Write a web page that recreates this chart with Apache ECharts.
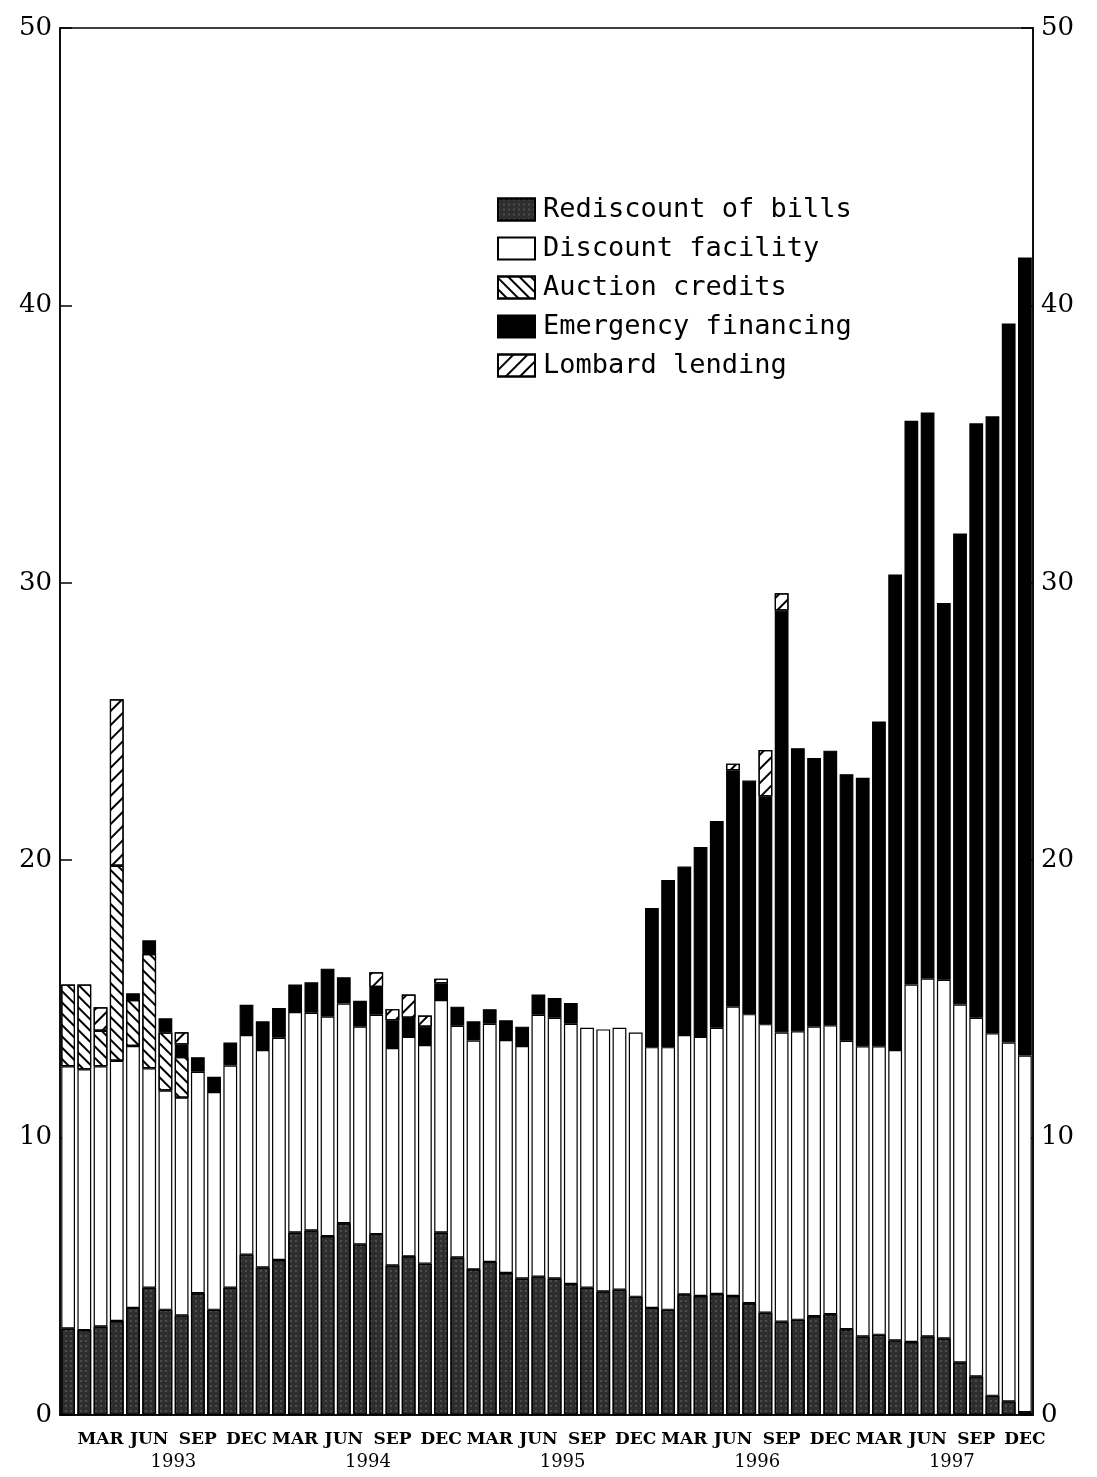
<!DOCTYPE html>
<html>
<head>
<meta charset="utf-8">
<script src="https://cdn.jsdelivr.net/npm/echarts@6/dist/echarts.min.js"></script>
<style>
html,body{margin:0;padding:0;background:#fff;}
#main{width:1097px;height:1477px;}
</style>
</head>
<body>
<div id="main"></div>
<script>
// monthly stock of central bank lending, 1993-1997
var years = ['1993', '1994', '1995', '1996', '1997'];
var monthNames = ['JAN','FEB','MAR','APR','MAY','JUN','JUL','AUG','SEP','OCT','NOV','DEC'];

var rediscount = [3.12,3.06,3.19,3.39,3.86,4.59,3.79,3.59,4.39,3.79,4.59,5.78,
    5.32,5.59,6.58,6.65,6.45,6.91,6.15,6.52,5.39,5.72,5.45,6.58,
    5.68,5.25,5.52,5.12,4.92,4.99,4.92,4.72,4.59,4.45,4.52,4.26,
    3.86,3.79,4.35,4.29,4.36,4.29,4.03,3.69,3.36,3.43,3.56,3.63,
    3.09,2.83,2.89,2.69,2.63,2.83,2.76,1.89,1.39,0.69,0.49,0.10];
var discount = [9.45,9.40,9.38,9.38,9.44,7.91,7.91,7.85,7.98,7.85,8.01,7.92,
    7.84,8.01,7.95,7.85,7.91,7.92,7.85,7.91,7.84,7.91,7.89,8.38,
    8.35,8.25,8.58,8.40,8.38,9.44,9.40,9.38,9.37,9.45,9.44,9.53,
    9.40,9.47,9.35,9.34,9.60,10.43,10.42,10.40,10.43,10.40,10.44,10.42,
    10.40,10.46,10.40,10.47,12.89,12.90,12.93,12.91,12.93,13.07,12.94,12.86];
var auction = [2.95,3.06,1.28,7.03,1.66,4.12,2.09,1.46,null,null,null,null,
    null,null,null,null,null,null,null,null,null,null,null,null,
    null,null,null,null,null,null,null,null,null,null,null,null,
    null,null,null,null,null,null,null,null,null,null,null,null,
    null,null,null,null,null,null,null,null,null,null,null,null];
var emergency = [null,null,null,null,0.24,0.49,0.51,0.46,0.53,0.55,0.83,1.09,
    1.03,1.07,0.99,1.10,1.73,0.95,0.93,1.00,1.00,0.69,0.66,0.60,
    0.69,0.69,0.53,0.71,0.70,0.73,0.71,0.75,null,null,null,null,
    5.02,6.03,6.07,6.85,7.45,8.52,8.42,8.21,15.21,10.21,9.68,9.90,
    9.61,9.68,11.71,17.14,20.32,20.41,13.58,16.98,21.43,22.24,25.92,28.77];
var lombard = [null,null,0.85,6.00,null,null,null,0.44,null,null,null,null,
    null,null,null,null,null,null,null,0.53,0.40,0.84,0.40,0.17,
    null,null,null,null,null,null,null,null,null,null,null,null,
    null,null,null,null,null,0.24,null,1.67,0.62,null,null,null,
    null,null,null,null,null,null,null,null,null,null,null,null];

var categories = [];
years.forEach(function (y) {
    monthNames.forEach(function (m) {
        categories.push(m + ' ' + y);
    });
});

var border = {borderColor: '#000', borderWidth: 1.2};

function barSeries(name, data, style) {
    return {
        name: name,
        type: 'bar',
        stack: 'total',
        data: data,
        barCategoryGap: '15%',
        itemStyle: Object.assign({}, border, style)
    };
}

var yAxisCommon = {
    type: 'value',
    min: 0,
    max: 50,
    interval: 10,
    axisLine: {show: true, lineStyle: {color: '#000', width: 1.5}},
    axisTick: {show: true, inside: true, length: 12, lineStyle: {color: '#000', width: 1.5}},
    splitLine: {show: false},
    axisLabel: {color: '#000', fontFamily: 'DejaVu Serif', fontSize: 26, margin: 8}
};

var option = {
    backgroundColor: '#fff',
    animation: false,
    grid: {left: 60, right: 64, top: 28, bottom: 62, show: true, borderColor: '#000', borderWidth: 1.5},
    legend: {
        orient: 'vertical',
        left: 492,
        top: 191,
        itemWidth: 37,
        itemHeight: 22,
        itemGap: 12,
        icon: 'rect',
        textStyle: {color: '#000', fontFamily: 'DejaVu Sans Mono', fontSize: 27, padding: [0, 0, 0, 3]},
        data: ['Rediscount of bills', 'Discount facility', 'Auction credits', 'Emergency financing', 'Lombard lending']
    },
    xAxis: [{
        type: 'category',
        data: categories,
        axisLine: {show: true, lineStyle: {color: '#000', width: 1.5}},
        axisTick: {show: false},
        axisLabel: {
            interval: function (i) { return i % 3 === 2; },
            formatter: function (v) { return v.split(' ')[0]; },
            color: '#000',
            fontFamily: 'DejaVu Serif',
            fontWeight: 'bold',
            fontSize: 17,
            margin: 16
        }
    }, {
        type: 'category',
        data: categories,
        position: 'bottom',
        axisLine: {show: false},
        axisTick: {show: false},
        axisLabel: {
            interval: function (i) { return i % 12 === 6; },
            formatter: function (v) { return '{y|' + v.split(' ')[1] + '}'; },
            margin: 38,
            rich: {y: {color: '#000', fontFamily: 'DejaVu Serif', fontSize: 18, padding: [0, 0, 0, 16]}}
        }
    }],
    yAxis: [
        Object.assign({position: 'left'}, yAxisCommon),
        Object.assign({position: 'right'}, yAxisCommon)
    ],
    series: [
        barSeries('Rediscount of bills', rediscount, {
            color: '#2e2e2e',
            decal: {symbol: 'rect', symbolSize: 0.5, color: 'rgba(255,255,255,0.6)', dashArrayX: [2, 3], dashArrayY: [2, 3]}
        }),
        barSeries('Discount facility', discount, {color: '#fff'}),
        barSeries('Auction credits', auction, {
            color: '#fff',
            decal: {symbol: 'rect', color: '#000', dashArrayX: [1, 0], dashArrayY: [2, 6], rotation: Math.PI / 4}
        }),
        barSeries('Emergency financing', emergency, {color: '#000'}),
        barSeries('Lombard lending', lombard, {
            color: '#fff',
            decal: {symbol: 'rect', color: '#000', dashArrayX: [1, 0], dashArrayY: [1.3, 8], rotation: -Math.PI / 4}
        })
    ]
};

var chart = echarts.init(document.getElementById('main'));
chart.setOption(option);
</script>
</body>
</html>
